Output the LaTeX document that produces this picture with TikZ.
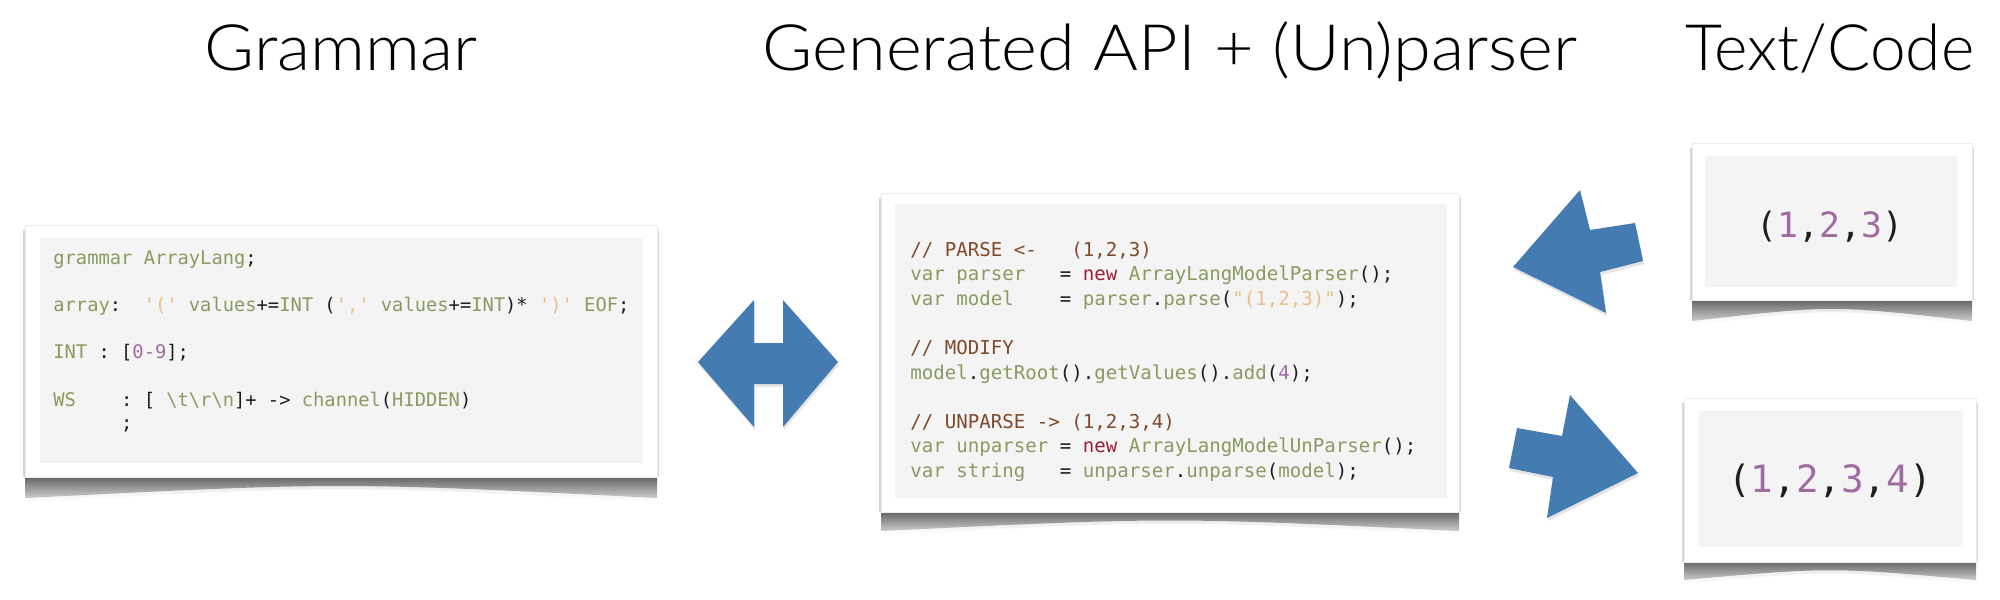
\documentclass[tikz,border=0pt]{standalone}
\usepackage{fontspec}
\setmainfont{Liberation Sans}
\setmonofont{DejaVu Sans Mono}
\newfontfamily\titlefont{Lato Light}
\definecolor{cgreen}{RGB}{138,154,96}
\definecolor{cblack}{RGB}{30,30,30}
\definecolor{corange}{RGB}{233,190,140}
\definecolor{cpurple}{RGB}{160,108,160}
\definecolor{cbrown}{RGB}{125,74,44}
\definecolor{cred}{RGB}{158,30,56}
\definecolor{ablue}{RGB}{68,123,176}
\definecolor{paper}{RGB}{244,244,244}
\newcommand*\cgr[1]{\textcolor{cgreen}{#1}}
\newcommand*\cor[1]{\textcolor{corange}{#1}}
\newcommand*\cpu[1]{\textcolor{cpurple}{#1}}
\newcommand*\cbr[1]{\textcolor{cbrown}{#1}}
\newcommand*\cre[1]{\textcolor{cred}{#1}}
\newcommand*\qsq{\textquotesingle}
\newcommand*\qdq{\textquotedbl}
% outer x0,y0,x1,y1 ; inner x0,y0,x1,y1 ; shadow depth
\newcommand\papercard[9]{%
  \fill[black!16] (#1-2,#2+5) rectangle (#3+2,#4);
  \shade[top color=black!12, bottom color=white]
    (#1+2,#4) -- (#1+2,#4+#9+4) .. controls ({(#1+#3)/2},#4+8) .. (#3-2,#4+#9+4) -- (#3-2,#4) -- cycle;
  \shade[top color=black!62, bottom color=black!20]
    (#1,#4-1) -- (#1,#4+#9) .. controls ({(#1+#3)/2},#4+5) .. (#3,#4+#9) -- (#3,#4-1) -- cycle;
  \fill[white, draw=black!7, line width=0.5pt] (#1,#2) rectangle (#3,#4);
  \fill[paper] (#5,#6) rectangle (#7,#8);
}
\tikzset{
  title/.style={font=\titlefont\fontsize{32}{38}\selectfont, anchor=base, inner sep=0pt, text=black},
  codel/.style={font=\ttfamily\fontsize{9.38}{11}\selectfont, anchor=base west, inner sep=0pt, text=cblack},
  codem/.style={font=\ttfamily\fontsize{9.55}{11}\selectfont, anchor=base west, inner sep=0pt, text=cblack},
  bigarrow/.style={fill=ablue},
  arrowshadow/.style={fill=black!10},
}
\begin{document}
\begin{tikzpicture}[x=0.5pt,y=-0.5pt]
\useasboundingbox (0,0) rectangle (2000,599);
\fill[white] (0,0) rectangle (2000,599);

% titles
\node[title] (tgram) at (341,71) {\scalebox{1.065}[1]{Grammar}};
\node[title] (tapi) at (1170,71) {\scalebox{1.07}[1]{Generated API + (Un)parser}};
\node[title] (ttext) at (1830,71) {Text/Code};

% cards
\papercard{25}{225}{657}{477}{40}{238}{643}{463}{21}
\papercard{881}{193}{1459}{512}{895}{204}{1447}{498}{19}
\papercard{1692}{143}{1972}{300}{1705}{156}{1957}{287}{21}
\papercard{1684}{398}{1976}{562}{1699}{411}{1963}{547}{18}

% grammar code
\node[codel] (l1) at (53,264) {\cgr{grammar~ArrayLang};};
\node[codel] (l2) at (53,311.4) {\cgr{array}:~~\cor{\qsq(\qsq}~\cgr{values}+=\cgr{INT}~(\cor{\qsq,\qsq}~\cgr{values}+=\cgr{INT})*~\cor{\qsq)\qsq}~\cgr{EOF};};
\node[codel] (l3) at (53,358.8) {\cgr{INT}~:~[\cpu{0-9}];};
\node[codel] (l4) at (53,406.2) {\cgr{WS}~~~~:~[~\cgr{\textbackslash t\textbackslash r\textbackslash n}]+~->~\cgr{channel}(\cgr{HIDDEN})};
\node[codel] (l5) at (53,429.9) {~~~~~~;};

% API code
\node[codem] (m1) at (910,256) {\cbr{//~PARSE~<-~~~(1,2,3)}};
\node[codem] (m2) at (910,280.6) {\cgr{var~parser}~~~=~\cre{new}~\cgr{ArrayLangModelParser}();};
\node[codem] (m3) at (910,305.2) {\cgr{var~model}~~~~=~\cgr{parser}.\cgr{parse}(\cor{\qdq(1,2,3)\qdq});};
\node[codem] (m5) at (910,354.4) {\cbr{//~MODIFY}};
\node[codem] (m6) at (910,379) {\cgr{model}.\cgr{getRoot}().\cgr{getValues}().\cgr{add}(\cpu{4});};
\node[codem] (m8) at (910,428.2) {\cbr{//~UNPARSE~->~(1,2,3,4)}};
\node[codem] (m9) at (910,452.8) {\cgr{var~unparser}~=~\cre{new}~\cgr{ArrayLangModelUnParser}();};
\node[codem] (m10) at (910,477.4) {\cgr{var~string}~~~=~\cgr{unparser}.\cgr{unparse}(\cgr{model});};

% text / code
\node[font=\ttfamily\fontsize{17.4}{20}\selectfont, anchor=base, inner sep=0pt, text=cblack] (v1) at (1830,237) {(\cpu{1},\cpu{2},\cpu{3})};
\node[font=\ttfamily\fontsize{18.8}{22}\selectfont, anchor=base, inner sep=0pt, text=cblack] (v2) at (1830,492) {(\cpu{1},\cpu{2},\cpu{3},\cpu{4})};

% arrows: shadows
\begin{scope}[shift={(1,3)}]
\fill[arrowshadow] (698,362) -- (754,300) -- (754,343) -- (783,343) -- (783,300) -- (838,362) -- (783,427) -- (783,384) -- (754,384) -- (754,427) -- cycle;
\fill[arrowshadow] (1513,267) -- (1580,190) -- (1590,230) -- (1635,223) -- (1643,261) -- (1600,272) -- (1606,313) -- cycle;
\fill[arrowshadow] (1517,428) -- (1562,436) -- (1570,395) -- (1638,473) -- (1547,518) -- (1553,477) -- (1509,468) -- cycle;
\end{scope}
% arrows
\fill[bigarrow] (698,362) -- (754,300) -- (754,343) -- (783,343) -- (783,300) -- (838,362) -- (783,427) -- (783,384) -- (754,384) -- (754,427) -- cycle;
\fill[bigarrow] (1513,267) -- (1580,190) -- (1590,230) -- (1635,223) -- (1643,261) -- (1600,272) -- (1606,313) -- cycle;
\fill[bigarrow] (1517,428) -- (1562,436) -- (1570,395) -- (1638,473) -- (1547,518) -- (1553,477) -- (1509,468) -- cycle;
\end{tikzpicture}
\end{document}
